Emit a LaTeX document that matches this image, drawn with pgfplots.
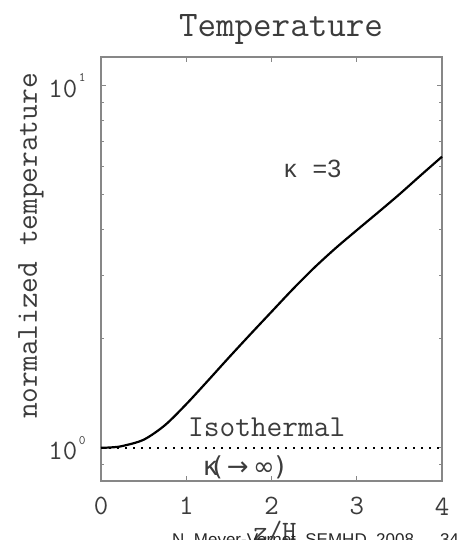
\documentclass[border=0pt]{standalone}
\usepackage{fontspec}
\setsansfont{Liberation Sans}
\newfontfamily\dejavu{DejaVu Sans}
\usepackage{pgfplots}
\pgfplotsset{compat=1.18}

\definecolor{frame}{RGB}{135,135,135}
\definecolor{ink}{RGB}{60,60,60}
\newcommand{\expo}[1]{\kern1.5bp\raisebox{0.55em}{\fontsize{13bp}{13bp}\selectfont #1}}

\begin{document}
\begin{tikzpicture}[x=1bp,y=1bp]
\useasboundingbox (0,0) rectangle (459,540);
\begin{axis}[
  at={(101bp,59bp)}, anchor=south west,
  width=341bp, height=424bp, scale only axis,
  ymode=log,
  xmin=0, xmax=4, ymin=0.81, ymax=12,
  xtick={0,1,2,3,4},
  xticklabels={0,1,2,3,4},
  ytick={1,10},
  yticklabels={10\expo{0},10\expo{1}},
  minor ytick={0.9,2,3,4,5,6,7,8,9},
  tick align=inside,
  major tick length=5bp,
  minor tick length=3bp,
  axis line style={frame, line width=1.2bp},
  every tick/.style={frame, line width=0.8bp},
  tick label style={font=\ttfamily\fontsize{28bp}{28bp}\selectfont, text=ink},
  xticklabel style={yshift=-13bp},
  yticklabel style={xshift=-12bp, yshift=0bp},
  clip=false,
]
% kappa = 3 profile
\addplot[black, line width=2.2bp, smooth] coordinates {
  (0,1) (0.125,1.003) (0.25,1.0116) (0.5,1.053) (0.75,1.155) (1.0,1.320)
  (1.25,1.529) (1.5,1.776) (1.75,2.056) (2.0,2.375) (2.25,2.742)
  (2.5,3.141) (2.75,3.556) (3.0,3.990) (3.25,4.467) (3.5,5.012)
  (3.75,5.655) (4.0,6.368)
};
% isothermal limit
\addplot[black, line width=1.5bp, dash pattern=on 1.5bp off 6.5bp] coordinates {(0,1) (4,1)};
\end{axis}

\node[text=ink, font=\ttfamily\fontsize{36bp}{36bp}\selectfont] at (281,510) {Temperature};
\node[text=ink, rotate=90, font=\ttfamily\fontsize{30.5bp}{31bp}\selectfont] at (31,294) {normalized temperature};
\node[text=ink, anchor=west, inner sep=0pt, font=\ttfamily\fontsize{30.5bp}{31bp}\selectfont] at (188,113) {Isothermal};
\node[text=ink, anchor=west, inner sep=0pt, font=\fontsize{25bp}{25bp}\selectfont] at (284,371) {\sffamily κ\hspace{16bp}=3};
\node[text=ink, anchor=west, inner sep=0pt, font=\fontsize{26bp}{26bp}\selectfont] at (203,73) {\dejavu κ\kern-6bp(\,→\,∞)};
\node[text=ink, anchor=base, inner sep=0pt, font=\ttfamily\fontsize{28bp}{28bp}\selectfont] at (275,0) {z/H};
\node[text=black!85, anchor=base west, inner sep=0pt, font=\sffamily\fontsize{17bp}{17bp}\selectfont] at (172,-5) {N. Meyer-Vernet, SEMHD, 2008\hspace{26bp}34};
\end{tikzpicture}
\end{document}
